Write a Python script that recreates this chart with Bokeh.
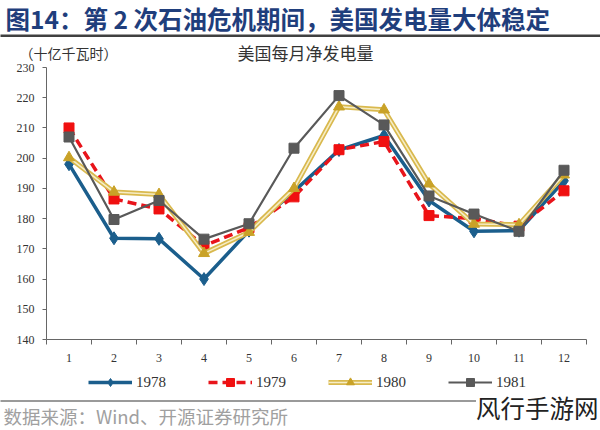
from bokeh.plotting import figure
from bokeh.models import (ColumnDataSource, FixedTicker, Label, BoxAnnotation,
                          Legend, LegendItem, LinearAxis, Range1d)
from bokeh.embed import file_html
from bokeh.resources import INLINE

# ---- data ----
months = [1, 2, 3, 4, 5, 6, 7, 8, 9, 10, 11, 12]
v1978 = [198.0, 173.5, 173.3, 160.0, 176.0, 189.0, 202.7, 207.5, 186.0, 175.8, 176.0, 192.5]
v1979 = [210.0, 186.5, 183.2, 171.0, 177.0, 187.2, 202.8, 205.5, 181.0, 180.0, 177.5, 189.2]
v1980 = [200.2, 188.8, 188.0, 168.5, 175.5, 190.0, 217.0, 216.0, 191.5, 178.2, 178.0, 194.5]
v1981 = [207.0, 179.7, 186.0, 173.2, 178.3, 203.3, 220.7, 211.0, 187.5, 181.5, 175.8, 196.0]
year_labels = ["1978", "1979", "1980", "1981"]
y_ticks = [140, 150, 160, 170, 180, 190, 200, 210, 220, 230]

title_text = "图14：第 2 次石油危机期间，美国发电量大体稳定"
unit_text = "（十亿千瓦时）"
chart_title = "美国每月净发电量"
source_text = "数据来源：Wind、开源证券研究所"
watermark = "风行手游网"

CJK = "Noto Sans CJK SC"
SERIF = "Liberation Serif"
W, H = 600, 430

# plot area in page pixels: x 46..586, y 67..339
PX_L, PX_R, PY_T, PY_B = 46.0, 586.0, 67.0, 339.0
XU = (PX_R - PX_L) / 12.0          # px per month
YU = (PY_B - PY_T) / 90.0          # px per unit
x0 = 0.5 - PX_L / XU
x1 = 12.5 + (W - PX_R) / XU
y1 = 230 + PY_T / YU
y0 = 140 - (H - PY_B) / YU


def dx(px):
    return x0 + px / XU


def dy(py):
    return y1 - py / YU


p = figure(width=W, height=H, output_backend="svg", toolbar_location=None,
           x_range=Range1d(x0, x1), y_range=Range1d(y0, y1),
           x_axis_location=None, y_axis_location=None,
           min_border=0, min_border_left=0, min_border_right=0,
           min_border_top=0, min_border_bottom=0,
           background_fill_color="white", border_fill_color="white")
p.outline_line_color = None
p.grid.visible = False

src = ColumnDataSource(dict(m=months, a=v1978, b=v1979, c=v1980, d=v1981))

r78l = p.line("m", "a", source=src, line_color="#1B5E8C", line_width=3.5)
r78m = p.scatter("m", "a", source=src, marker="diamond", size=13,
                 fill_color="#1B5E8C", line_color="#1B5E8C")
r79l = p.line("m", "b", source=src, line_color="#E8141B", line_width=3.5,
              line_dash="9 5")
r79m = p.scatter("m", "b", source=src, marker="square", size=10,
                 fill_color="#F01010", line_color="#F01010")
r80o = p.line("m", "c", source=src, line_color="#D9B94E", line_width=5)
r80i = p.line("m", "c", source=src, line_color="#F6EDC6", line_width=1.6)
r80m = p.scatter("m", "c", source=src, marker="triangle", size=11,
                 fill_color="#C9A227", line_color="#C9A227")
r81l = p.line("m", "d", source=src, line_color="#595959", line_width=2.2)
r81m = p.scatter("m", "d", source=src, marker="square", size=10,
                 fill_color="#595959", line_color="#595959")

# axes drawn at fixed locations inside the canvas
xa = LinearAxis(fixed_location=140, bounds=(0.5, 12.5))
xa.ticker = FixedTicker(ticks=months, minor_ticks=[m - 0.5 for m in months] + [12.5])
xa.major_tick_out = 0
xa.major_tick_in = 0
xa.minor_tick_out = 5
xa.minor_tick_in = 0
xa.minor_tick_line_color = "#666666"
xa.axis_line_color = "#666666"
xa.major_label_standoff = 9
xa.major_label_text_font = SERIF
xa.major_label_text_font_size = "12px"
xa.major_label_text_color = "#333333"
p.add_layout(xa, "below")

ya = LinearAxis(fixed_location=0.5, bounds=(140, 230))
ya.ticker = FixedTicker(ticks=y_ticks)
ya.minor_tick_line_color = None
ya.major_tick_out = 4
ya.major_tick_in = 0
ya.major_tick_line_color = "#666666"
ya.axis_line_color = "#666666"
ya.major_label_standoff = 8
ya.major_label_text_font = SERIF
ya.major_label_text_font_size = "12px"
ya.major_label_text_color = "#333333"
p.add_layout(ya, "left")

legend = Legend(items=[
    LegendItem(label=year_labels[0], renderers=[r78l, r78m]),
    LegendItem(label=year_labels[1], renderers=[r79l, r79m]),
    LegendItem(label=year_labels[2], renderers=[r80o, r80i, r80m]),
    LegendItem(label=year_labels[3], renderers=[r81l, r81m]),
], orientation="horizontal", location=(88, H - 392), glyph_width=44,
   glyph_height=20, label_height=20, label_standoff=4, spacing=42,
   padding=0, margin=0,
   label_text_font=SERIF, label_text_font_size="15px",
   label_text_color="#333333", border_line_color=None,
   background_fill_alpha=0)
p.add_layout(legend, "center")

# header rule and footer rule
p.add_layout(BoxAnnotation(left=dx(-5), right=dx(W + 5), top=dy(34), bottom=dy(36.5),
                           fill_color="#404040", fill_alpha=1, line_color=None))
p.add_layout(BoxAnnotation(left=dx(-5), right=dx(480), top=dy(399.5), bottom=dy(401.5),
                           fill_color="#9A9A9A", fill_alpha=1, line_color=None))

# texts
p.add_layout(Label(x=dx(5), y=dy(18), text=title_text, text_font=CJK,
                   text_font_style="bold", text_font_size="24.5px",
                   text_color="#1F3E7C", text_baseline="middle", text_align="left"))
p.add_layout(Label(x=dx(19), y=dy(52), text=unit_text, text_font=CJK,
                   text_font_size="14px", text_color="#333333",
                   text_baseline="middle", text_align="left"))
p.add_layout(Label(x=dx(305), y=dy(52), text=chart_title, text_font=CJK,
                   text_font_size="17px", text_color="#333333",
                   text_baseline="middle", text_align="center"))
p.add_layout(Label(x=dx(3), y=dy(415), text=source_text, text_font=CJK,
                   text_font_size="18.5px", text_color="#A0A0A0",
                   text_baseline="middle", text_align="left"))
p.add_layout(Label(x=dx(598), y=dy(407), text=watermark, text_font=CJK,
                   text_font_size="24.5px", text_color="#222222",
                   text_baseline="middle", text_align="right",
                   background_fill_color="white", background_fill_alpha=1))

open("out.html", "w").write(file_html(p, INLINE))
